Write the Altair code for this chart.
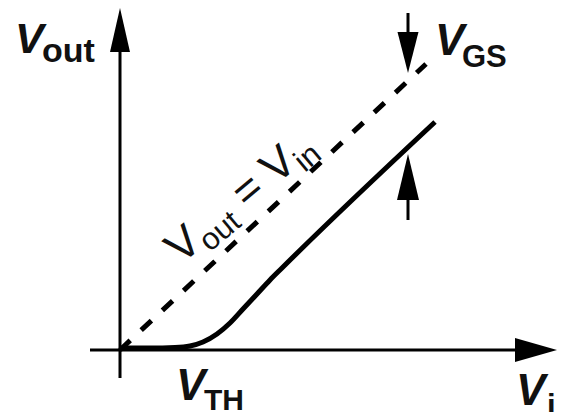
import altair as alt
import pandas as pd

# ---- data (volts) ----
vin_curve = [0.00, 0.30, 0.55, 0.70, 0.83, 0.97, 1.10, 1.23, 1.37, 1.50, 1.62, 3.15]
vout_curve = [0.02, 0.02, 0.025, 0.04, 0.08, 0.16, 0.27, 0.41, 0.56, 0.70, 0.82, 2.28]
vin_ident = [0.00, 3.06]
vout_ident = [0.00, 2.86]

# axis extents and V_GS marker (volts)
axis_x = [-0.30, 4.00]
axis_y = [-0.28, 3.00]
vgs_x = 2.88
vgs_top_shaft = [3.37, 3.12]
vgs_bot_shaft = [1.55, 1.30]

X_DOMAIN = [-1.12, 4.37]
Y_DOMAIN = [-0.62, 3.42]

FONT = "Liberation Sans"
xs = alt.Scale(domain=X_DOMAIN, nice=False, zero=False)
ys = alt.Scale(domain=Y_DOMAIN, nice=False, zero=False)


def X(f="x"):
    return alt.X(f + ":Q", scale=xs, axis=None)


def Y(f="y"):
    return alt.Y(f + ":Q", scale=ys, axis=None)


curve_df = pd.DataFrame({"x": vin_curve, "y": vout_curve})
ident_df = pd.DataFrame({"x": vin_ident, "y": vout_ident})

solid = alt.Chart(curve_df).mark_line(
    interpolate="monotone", color="black", strokeWidth=5, strokeCap="butt"
).encode(x=X(), y=Y())

dashed = alt.Chart(ident_df).mark_line(
    color="black", strokeWidth=5, strokeDash=[14, 15], strokeCap="butt"
).encode(x=X(), y=Y())

rules_df = pd.DataFrame({
    "x": [axis_x[0], 0.0, vgs_x, vgs_x],
    "x2": [axis_x[1], 0.0, vgs_x, vgs_x],
    "y": [0.0, axis_y[0], vgs_top_shaft[0], vgs_bot_shaft[0]],
    "y2": [0.0, axis_y[1], vgs_top_shaft[1], vgs_bot_shaft[1]],
})
rules = alt.Chart(rules_df).mark_rule(color="black", strokeWidth=3).encode(
    x=X(), x2="x2:Q", y=Y(), y2="y2:Q"
)


def head(x, y, path, size):
    return alt.Chart(pd.DataFrame({"x": [x], "y": [y]})).mark_point(
        shape=path, size=size, filled=True, color="black", opacity=1, strokeWidth=0
    ).encode(x=X(), y=Y())


heads = [
    head(4.16, 0.0, "M -1 -0.571 L 1 0 L -1 0.571 Z", 1764),
    head(0.0, 3.20, "M -0.4545 1 L 0 -1 L 0.4545 1 Z", 1936),
    head(vgs_x, 2.975, "M -0.512 -1 L 0 1 L 0.512 -1 Z", 1681),
    head(vgs_x, 1.73, "M -0.478 1 L 0 -1 L 0.478 1 Z", 2116),
]


def label(x, y, t, size, italic=False, bold=True, angle=0, dx=0, dy=0):
    kw = dict(
        align="left", baseline="alphabetic", font=FONT, fontSize=size,
        fontWeight="bold" if bold else "normal",
        fontStyle="italic" if italic else "normal",
        color="#111111", dx=dx, dy=dy,
    )
    if angle:
        kw["angle"] = angle
    return alt.Chart(pd.DataFrame({"x": [x], "y": [y], "t": [t]})).mark_text(**kw).encode(
        x=X(), y=Y(), text="t:N"
    )


texts = [
    label(-1.05, 2.97, "V", 43, italic=True),
    label(-0.78, 2.88, "out", 34),
    label(3.15, 2.95, "V", 44, italic=True),
    label(3.42, 2.83, "GS", 31),
    label(0.56, -0.50, "V", 44, italic=True),
    label(0.84, -0.60, "TH", 30),
    label(3.96, -0.55, "V", 44, italic=True),
    label(4.27, -0.66, "in", 31),
]

# rotated identity-line label
ax, ay = 0.61, 0.85
rot = [
    label(ax, ay, "V", 45, bold=False, angle=320, dx=0),
    label(ax, ay, "out", 31, bold=False, angle=320, dx=30, dy=9),
    label(ax, ay, "=", 45, bold=False, angle=320, dx=86),
    label(ax, ay, "V", 45, bold=False, angle=320, dx=124),
    label(ax, ay, "in", 31, bold=False, angle=320, dx=154, dy=9),
]

chart = alt.layer(rules, dashed, solid, *heads, *texts, *rot).properties(
    width=549, height=404, autosize=alt.AutoSizeParams(type="none"), padding=0,
    background="white",
).configure_view(stroke=None)

chart.save("out.html", embed_options={"renderer": "svg", "actions": False})
